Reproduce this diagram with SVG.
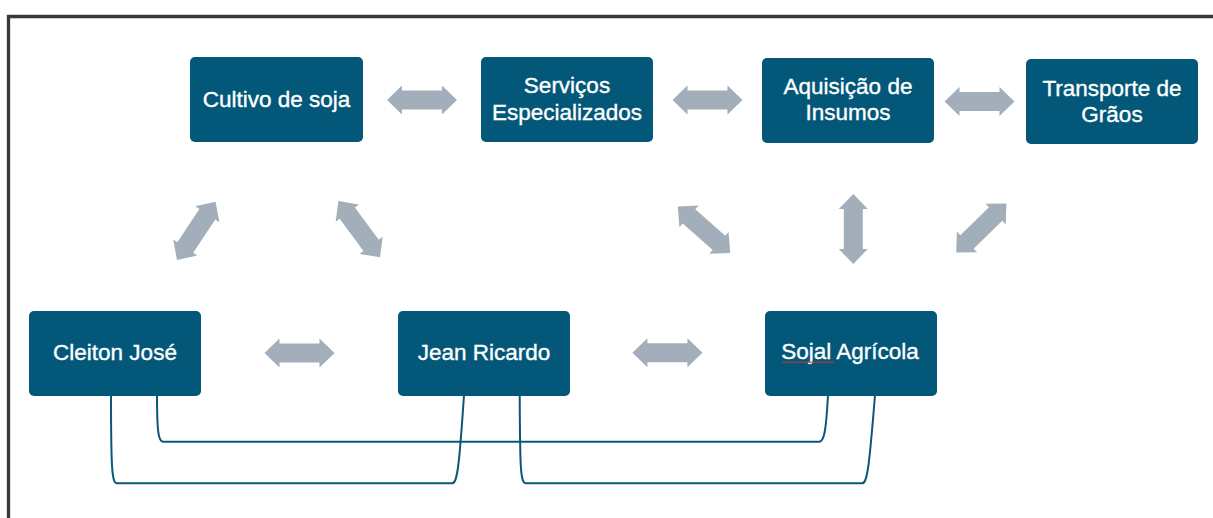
<svg xmlns="http://www.w3.org/2000/svg" xmlns:xlink="http://www.w3.org/1999/xlink" width="1213" height="518" viewBox="0 0 1213 518">
<style>
.box{fill:#03587a;}
.lbl{font-family:"Liberation Sans",Arial,sans-serif;font-size:22.5px;fill:#ffffff;stroke:#ffffff;stroke-width:0.35;text-anchor:middle;}
.arr{fill:#a2afba;}
.con{fill:none;stroke:#0d5776;stroke-width:2;}
</style>
<defs>
<path id="dbl" d="M-35,0 L-20,-14.5 L-20,-9.5 L20,-9.5 L20,-14.5 L35,0 L20,14.5 L20,9.5 L-20,9.5 L-20,14.5 Z"/>
</defs>
<rect x="0" y="0" width="1213" height="518" fill="#ffffff"/>
<path d="M8.5,518 L8.5,16.5 L1213,16.5" fill="none" stroke="#3a3931" stroke-width="3.3"/>

<g id="arrows">
<use href="#dbl" class="arr" transform="translate(422,100)"/>
<use href="#dbl" class="arr" transform="translate(707.5,100)"/>
<use href="#dbl" class="arr" transform="translate(979.5,101.5)"/>
<use href="#dbl" class="arr" transform="translate(299.5,353)"/>
<use href="#dbl" class="arr" transform="translate(667.4,352.7)"/>
<use href="#dbl" class="arr" transform="translate(196.3,230.9) rotate(-56.6)"/>
<use href="#dbl" class="arr" transform="translate(359.2,229.2) rotate(53.5)"/>
<use href="#dbl" class="arr" transform="translate(704,229.7) rotate(41.5)"/>
<use href="#dbl" class="arr" transform="translate(853.3,229) rotate(90)"/>
<use href="#dbl" class="arr" transform="translate(981.3,228) rotate(-44.3)"/>
</g>

<g id="connectors">
<path class="con" d="M157,395 C157,432 158.5,441.7 163,441.7 L819,441.7 C824,441.7 826,432 828,395"/>
<path class="con" d="M111,395 C111,470 112,483.3 117,483.3 L452,483.3 C457,483.3 459,470 464,395"/>
<path class="con" d="M519.7,395 C520,470 520.5,483.3 526,483.3 L862,483.3 C867,483.3 869,470 875,395"/>
</g>

<g id="cultivo">
<rect class="box" x="190" y="57" width="173" height="85" rx="5"/>
<text class="lbl" x="276.5" y="107">Cultivo de soja</text>
</g>
<g id="servicos">
<rect class="box" x="481" y="57" width="172" height="85" rx="5"/>
<text class="lbl" x="567" y="93">Serviços</text>
<text class="lbl" x="567" y="120">Especializados</text>
</g>
<g id="aquisicao">
<rect class="box" x="762" y="58" width="172" height="85" rx="5"/>
<text class="lbl" x="848" y="94">Aquisição de</text>
<text class="lbl" x="848" y="120">Insumos</text>
</g>
<g id="transporte">
<rect class="box" x="1026" y="59" width="172" height="85" rx="5"/>
<text class="lbl" x="1112" y="96">Transporte de</text>
<text class="lbl" x="1112" y="122">Grãos</text>
</g>
<g id="cleiton">
<rect class="box" x="29" y="311" width="172" height="85" rx="5"/>
<text class="lbl" x="115" y="360">Cleiton José</text>
</g>
<g id="jean">
<rect class="box" x="398" y="311" width="172" height="85" rx="5"/>
<text class="lbl" x="484" y="360">Jean Ricardo</text>
</g>
<g id="sojal">
<rect class="box" x="765" y="311" width="172" height="85" rx="5"/>
<text class="lbl" x="850" y="359">Sojal Agrícola</text>
<path d="M782,363 l2,-1.5 l2,1.5 l2,-1.5 l2,1.5 l2,-1.5 l2,1.5 l2,-1.5 l2,1.5 l2,-1.5 l2,1.5 l2,-1.5 l2,1.5 l2,-1.5 l2,1.5 l2,-1.5 l2,1.5 l2,-1.5 l2,1.5 l2,-1.5 l2,1.5 l2,-1.5 l2,1.5 l2,-1.5 l2,1.5 l2,-1.5 l2,1.5" fill="none" stroke="#d9302c" stroke-width="1"/>
</g>
</svg>
